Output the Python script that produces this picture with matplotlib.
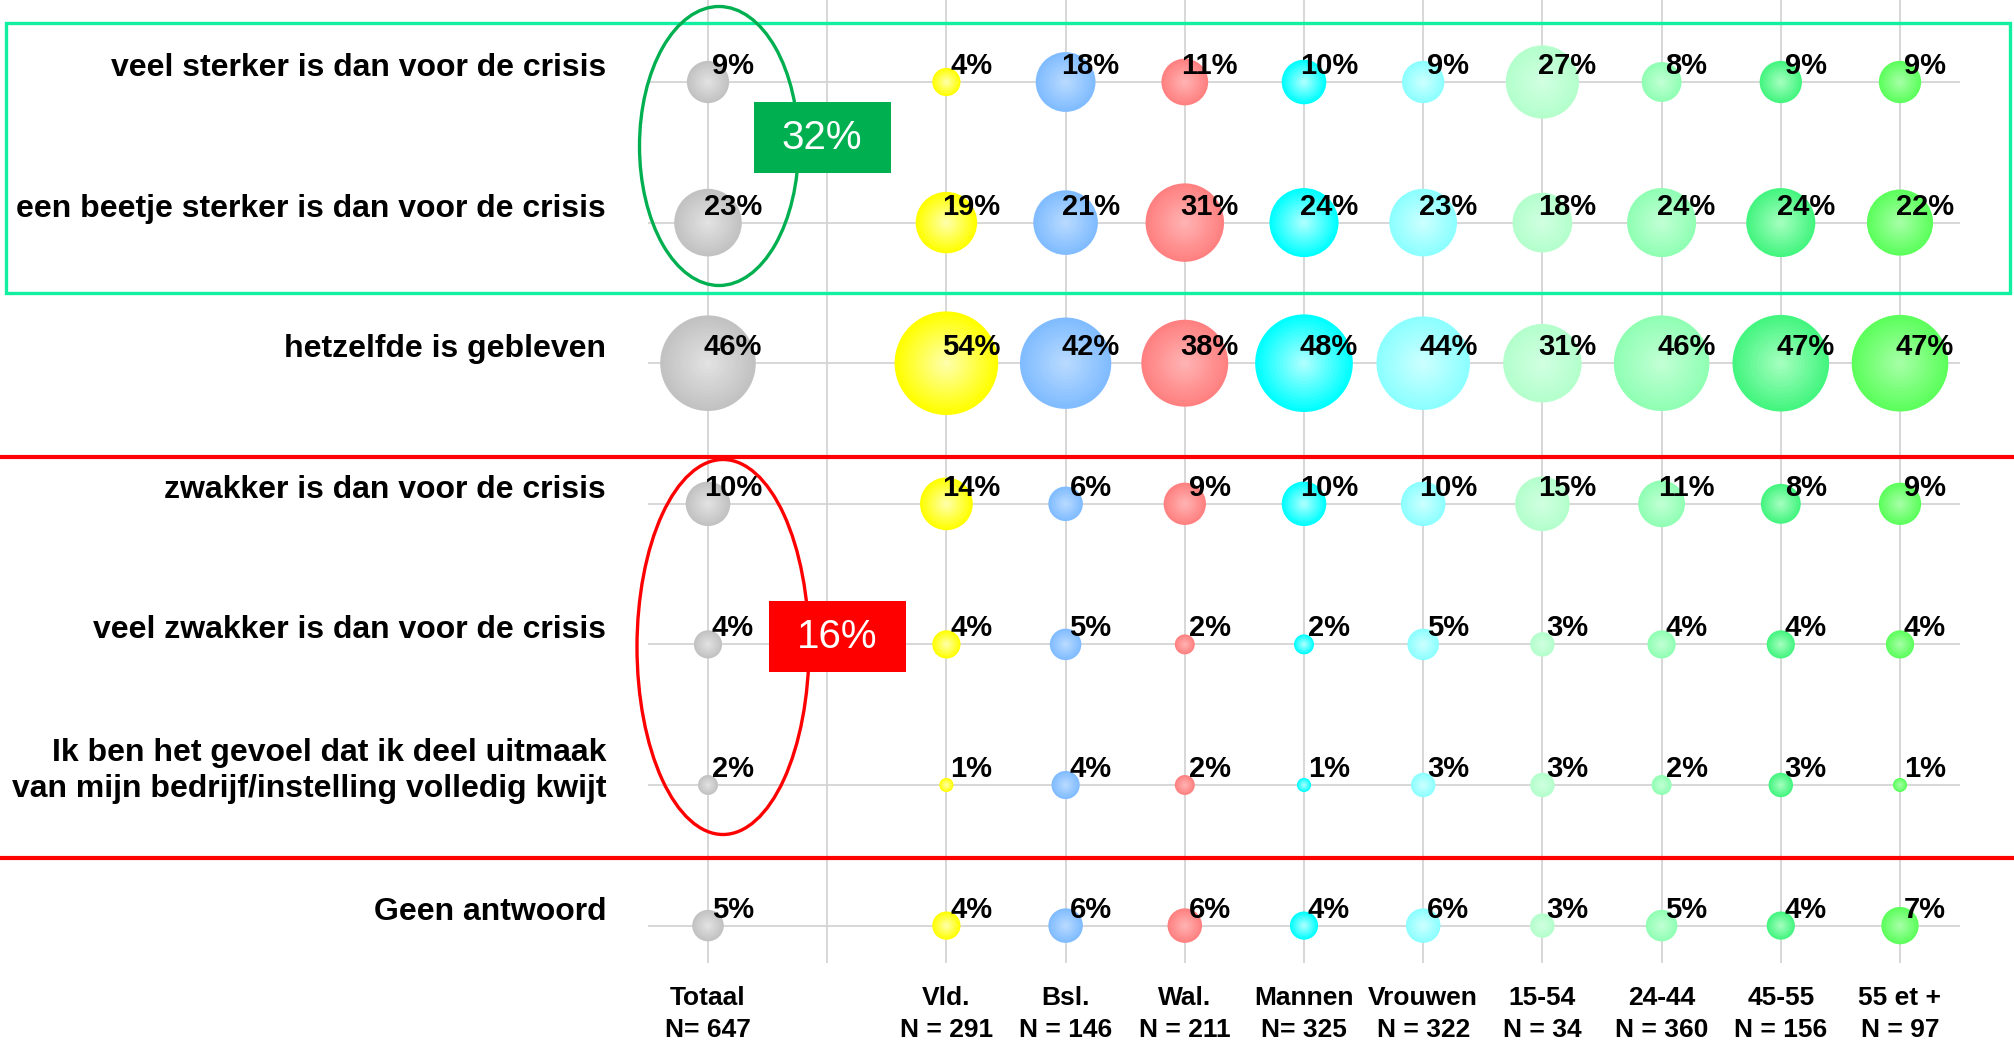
import numpy as np
import matplotlib.pyplot as plt
from matplotlib.patches import Ellipse, Rectangle
from matplotlib.colors import to_rgb

plt.rcParams['font.family'] = ['Liberation Sans', 'DejaVu Sans']

# Données
groupes = ['Totaal', '', 'Vld.', 'Bsl.', 'Wal.', 'Mannen', 'Vrouwen',
           '15-54', '24-44', '45-55', '55 et +']
effectifs = ['N= 647', '', 'N = 291', 'N = 146', 'N = 211', 'N= 325',
             'N = 322', 'N = 34', 'N = 360', 'N = 156', 'N = 97']
reponses = ['veel sterker is dan voor de crisis',
            'een beetje sterker is dan voor de crisis',
            'hetzelfde is gebleven',
            'zwakker is dan voor de crisis',
            'veel zwakker is dan voor de crisis',
            'Ik ben het gevoel dat ik deel uitmaak\nvan mijn bedrijf/instelling volledig kwijt',
            'Geen antwoord']

# une liste par groupe (None = colonne vide)
totaal  = [9, 23, 46, 10, 4, 2, 5]
vld     = [4, 19, 54, 14, 4, 1, 4]
bsl     = [18, 21, 42, 6, 5, 4, 6]
wal     = [11, 31, 38, 9, 2, 2, 6]
mannen  = [10, 24, 48, 10, 2, 1, 4]
vrouwen = [9, 23, 44, 10, 5, 3, 6]
age_1   = [27, 18, 31, 15, 3, 3, 3]
age_2   = [8, 24, 46, 11, 4, 2, 5]
age_3   = [9, 24, 47, 8, 4, 3, 4]
age_4   = [9, 22, 47, 9, 4, 1, 7]
valeurs = [totaal, None, vld, bsl, wal, mannen, vrouwen, age_1, age_2, age_3, age_4]

# couleur du bord et du centre de chaque bulle
couleurs = [('#c2c2c2', '#e4e4e4'), None,
            ('#ffff00', '#ffffb4'), ('#80bcff', '#bcdcff'),
            ('#ff8080', '#ffb6b6'), ('#00ffff', '#b8ffff'),
            ('#8cffff', '#d0ffff'), ('#b4ffcc', '#d2ffe2'),
            ('#90ffb4', '#c4ffd6'), ('#44f580', '#aaffc2'),
            ('#5cff5c', '#aaffaa')]

W, H = 2014, 1042
fig = plt.figure(figsize=(W / 100, H / 100), dpi=100)
fig.patch.set_facecolor('white')

# axes principal : colonnes 0..10, lignes 0..6
x0, x1 = 648.4, 1959.6
y_bas = 963
ax = fig.add_axes([x0 / W, (H - y_bas) / H, (x1 - x0) / W, y_bas / H])
ax.set_xlim(-0.5, 10.5)
ax.set_ylim((y_bas - 82) / 140.6, -82 / 140.6)
ax.set_xticks(range(len(groupes)))
ax.set_yticks(range(len(reponses)))
ax.grid(True, color='#d4d4d4', lw=1.3)
ax.set_axisbelow(True)
ax.tick_params(length=0, labelbottom=False, labelleft=False)
for s in ax.spines.values():
    s.set_visible(False)
ax.patch.set_alpha(0)

rows = np.arange(len(reponses))
n_couches = 14
for i, vals in enumerate(valeurs):
    if vals is None:
        continue
    v = np.array(vals, dtype=float)
    bord, centre = np.array(to_rgb(couleurs[i][0])), np.array(to_rgb(couleurs[i][1]))
    for k in range(n_couches):
        f = k / n_couches
        c = bord * (1 - f) + centre * f
        ax.scatter(np.full(len(v), i), rows, s=103 * v * (1 - f) ** 2,
                   color=c, lw=0, zorder=3 + k * 0.01)
    for r, val in zip(rows, vals):
        ax.annotate(f'{val}%', (i, r), xytext=(25, 16), textcoords='offset pixels',
                    ha='center', va='center', fontsize=21, fontweight='bold',
                    zorder=10)

# libellés des réponses
for r, lab in zip(rows, reponses):
    ax.annotate(lab, (606 / W, r), xycoords=('figure fraction', 'data'),
                xytext=(0, 14), textcoords='offset pixels', ha='right',
                va='center', fontsize=23, fontweight='bold', linespacing=1.3,
                multialignment='right', annotation_clip=False)

# libellés des groupes
for i, (g, n) in enumerate(zip(groupes, effectifs)):
    ax.annotate(g, (i, 44), xycoords=('data', 'figure pixels'), ha='center',
                va='center', fontsize=19, fontweight='bold', annotation_clip=False)
    ax.annotate(n, (i, 12), xycoords=('data', 'figure pixels'), ha='center',
                va='center', fontsize=19, fontweight='bold', annotation_clip=False)

# calque de décoration en pixels
deco = fig.add_axes([0, 0, 1, 1])
deco.set_xlim(0, W)
deco.set_ylim(H, 0)
deco.axis('off')
deco.patch.set_alpha(0)

deco.add_patch(Rectangle((6, 23), 2004, 270, fill=False, ec='#10f0a0', lw=2.4))
deco.plot([0, W], [457, 457], color='#ff0000', lw=3)
deco.plot([0, W], [858, 858], color='#ff0000', lw=3)
deco.add_patch(Ellipse((719, 146), 159, 279, fill=False, ec='#00b050', lw=2.4))
deco.add_patch(Ellipse((723, 647), 172, 375, fill=False, ec='#ff0000', lw=2.4))

deco.add_patch(Rectangle((754, 102), 137, 71, fc='#00b050', ec='none'))
deco.text(822, 138, '32%', color='white', fontsize=29, ha='center', va='center')
deco.add_patch(Rectangle((769, 601), 137, 71, fc='#ff0000', ec='none'))
deco.text(837, 637, '16%', color='white', fontsize=29, ha='center', va='center')

fig.savefig('out.png', dpi=100)
